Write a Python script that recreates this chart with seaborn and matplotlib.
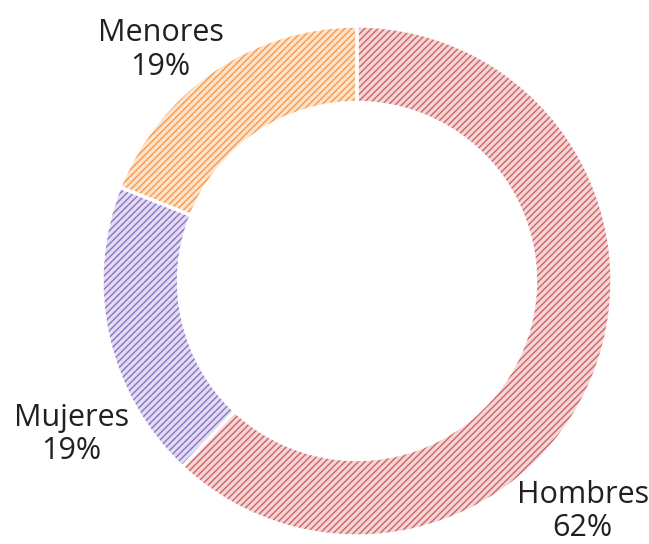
"""Donut chart: share of Hombres / Mujeres / Menores."""
import matplotlib.pyplot as plt
import seaborn as sns

categories = ["Hombres", "Mujeres", "Menores"]
shares = [62, 19, 19]
tick_labels = ["62%", "19%", "19%"]

# light fill + darker hatch line for every slice
fill_colors = ["#f5d6d6", "#e3dcf2", "#fee3cb"]
hatch_colors = ["#d06a6e", "#8f79c6", "#f89c52"]

sns.set_theme(style="white")
plt.rcParams["font.family"] = ["Open Sans", "DejaVu Sans"]
plt.rcParams["hatch.linewidth"] = 0.9

DPI = 120
fig = plt.figure(figsize=(649 / DPI, 544 / DPI), dpi=DPI)
ax = fig.add_axes([0, 0, 1, 1])

WIDTH = 0.30
ring = dict(startangle=90, counterclock=False, radius=1.0)

# base tint
ax.pie(shares, colors=fill_colors, wedgeprops=dict(width=WIDTH, linewidth=0), **ring)
# hatch layer
wedges, _ = ax.pie(shares, colors=fill_colors,
                   wedgeprops=dict(width=WIDTH, linewidth=0), **ring)
for w, hc in zip(wedges, hatch_colors):
    w.set_facecolor("none")
    w.set_edgecolor(hc)
    w.set_hatch("//////")
# white separators
ax.pie(
    shares,
    colors=["none"] * 3,
    wedgeprops=dict(width=WIDTH, edgecolor="white", linewidth=2.0, fill=False),
    **ring,
)

# pie() resets limits, so place the ring afterwards
R = 255
cx, cy = 357, 281
ax.set_xlim(-cx / R, (649 - cx) / R)
ax.set_ylim(-(544 - cy) / R, cy / R)
ax.set_aspect("equal", adjustable="datalim")
ax.axis("off")

# label positions (data units, centre of the two-line block)
label_pos = {"Hombres": (0.885, -0.905), "Mujeres": (-1.121, -0.602), "Menores": (-0.770, 0.906)}
for cat, lab in zip(categories, tick_labels):
    x, y = label_pos[cat]
    ax.text(x, y, f"{cat}\n{lab}", ha="center", va="center", fontsize=18.3,
            color="#231f20", linespacing=1.15)

fig.savefig("out.png", dpi=DPI)
